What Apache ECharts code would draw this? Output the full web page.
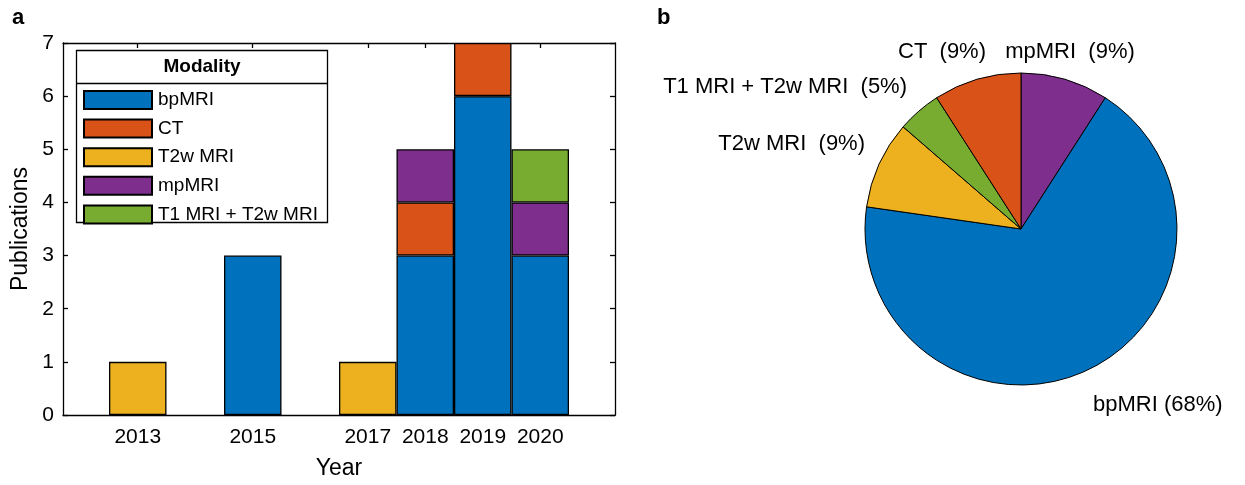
<!DOCTYPE html>
<html>
<head>
<meta charset="utf-8">
<script src="https://cdn.jsdelivr.net/npm/echarts@6/dist/echarts.min.js"></script>
<style>
  html, body { margin: 0; padding: 0; background: #fff; }
  #chart { width: 1245px; height: 485px; }
</style>
</head>
<body>
<div id="chart"></div>
<script>
// data
const years = [2013, 2015, 2017, 2018, 2019, 2020]
const modalities = ["bpMRI", "CT", "T2w MRI", "mpMRI", "T1 MRI + T2w MRI"]
const bpMRI = [null, 3, null, 3, 6, 3]
const ct = [null, null, null, 1, 1, null]
const t2wMRI = [1, null, 1, null, null, null]
const mpMRI = [null, null, null, 1, null, 1]
const t1t2wMRI = [null, null, null, null, null, 1]
const yTicks = [0, 1, 2, 3, 4, 5, 6, 7]
const pieOrder = ["mpMRI", "bpMRI", "T2w MRI", "T1 MRI + T2w MRI", "CT"]

const colors = ["#0072BD", "#D95319", "#EDB120", "#7E2F8E", "#77AC30"]
const font = "'Liberation Sans', Arial, sans-serif"

const seriesValues = [bpMRI, ct, t2wMRI, mpMRI, t1t2wMRI]
const totals = seriesValues.map(vals => vals.reduce((s, v) => s + (v || 0), 0))
const grandTotal = totals.reduce((a, b) => a + b, 0)
const pieData = pieOrder.map(name => {
  const i = modalities.indexOf(name)
  return { name, value: totals[i], itemStyle: { color: colors[i] } }
})

const grid = { left: 63, right: 630, top: 43, bottom: 68 }
const xMin = 2011.7
const xMax = 2021.3
const barPx = (1245 - grid.left - grid.right) / (xMax - xMin)

// where each pie label sits (anchor x, y, alignment)
const pieLabelAnchors = {
  "mpMRI": [1070, 52, "center"],
  "CT": [942, 52, "center"],
  "T1 MRI + T2w MRI": [907, 87, "right"],
  "T2w MRI": [865, 144, "right"],
  "bpMRI": [1093, 405, "left"]
}

const axisLine = { show: true, onZero: false, lineStyle: { color: "#000", width: 1.3 } }
const tickStyle = { inside: true, length: 5, lineStyle: { color: "#000", width: 1.3 } }

const chart = echarts.init(document.getElementById("chart"), null, { renderer: "canvas" })

chart.setOption({
  animation: false,
  textStyle: { fontFamily: font },
  grid: { ...grid, containLabel: false },
  xAxis: [
    {
      type: "value", min: xMin, max: xMax,
      name: "Year", nameLocation: "middle", nameGap: 42,
      nameTextStyle: { fontSize: 23, color: "#000", fontFamily: font },
      axisLine,
      axisTick: { ...tickStyle, customValues: years },
      axisLabel: { customValues: years, formatter: v => String(v), fontSize: 21, color: "#000", margin: 12, fontFamily: font },
      splitLine: { show: false }
    },
    {
      type: "value", min: xMin, max: xMax, position: "top",
      axisLine,
      axisTick: { ...tickStyle, customValues: years },
      axisLabel: { show: false, customValues: years },
      splitLine: { show: false }
    }
  ],
  yAxis: [
    {
      type: "value", min: 0, max: 7, interval: 1,
      name: "Publications", nameLocation: "middle", nameGap: 31,
      nameTextStyle: { fontSize: 23, color: "#000", fontFamily: font },
      axisLine,
      axisTick: { ...tickStyle, customValues: yTicks },
      axisLabel: { customValues: yTicks, fontSize: 21, color: "#000", margin: 9, fontFamily: font },
      splitLine: { show: false }
    },
    {
      type: "value", min: 0, max: 7, interval: 1, position: "right",
      axisLine,
      axisTick: { ...tickStyle, customValues: yTicks },
      axisLabel: { show: false },
      splitLine: { show: false }
    }
  ],
  legend: {
    data: modalities,
    orient: "vertical",
    left: 83, top: 90,
    z: 100,
    padding: 0,
    icon: "rect",
    itemWidth: 68, itemHeight: 18, itemGap: 8.6,
    textStyle: { fontSize: 19, color: "#000", fontFamily: font, lineHeight: 18, padding: [0, 0, 0, 1] },
    selectedMode: false
  },
  graphic: [
    {
      type: "rect", z: 90, silent: true,
      shape: { x: 76.5, y: 50.5, width: 251, height: 172 },
      style: { fill: "#fff", stroke: "#000", lineWidth: 1.3 }
    },
    {
      type: "line", z: 91, silent: true,
      shape: { x1: 76.5, y1: 83.5, x2: 327.5, y2: 83.5 },
      style: { stroke: "#000", lineWidth: 1.3 }
    },
    {
      type: "text", z: 91, silent: true,
      style: { x: 202, y: 67, text: "Modality", align: "center", verticalAlign: "middle",
        font: "bold 19px " + font, fill: "#000" }
    },
    {
      type: "text", silent: true,
      style: { x: 12, y: 18, text: "a", verticalAlign: "middle", font: "bold 22px " + font, fill: "#000" }
    },
    {
      type: "text", silent: true,
      style: { x: 657, y: 18, text: "b", verticalAlign: "middle", font: "bold 22px " + font, fill: "#000" }
    }
  ],
  series: [
    ...modalities.map((name, i) => ({
      name,
      type: "bar",
      stack: "total",
      barWidth: barPx,
      itemStyle: { color: colors[i], borderColor: "#000", borderWidth: 1.3 },
      // value first so that the stack runs on the count, not on the year
      encode: { x: 1, y: 0 },
      data: years.map((y, k) => [seriesValues[i][k], y])
    })),
    {
      name: "share",
      type: "pie",
      center: [1021, 229],
      radius: 156,
      startAngle: 90,
      clockwise: true,
      data: pieData,
      itemStyle: { borderColor: "#000", borderWidth: 1 },
      emphasis: { disabled: true },
      label: {
        show: true,
        position: "outside",
        fontSize: 22,
        color: "#000",
        fontFamily: font,
        width: 320,
        formatter: p => {
          const pct = Math.round(p.value / grandTotal * 100)
          return p.name + (p.name === "bpMRI" ? " " : "  ") + "(" + pct + "%)"
        }
      },
      labelLine: { show: false },
      labelLayout: params => {
        const a = pieLabelAnchors[pieOrder[params.dataIndex]]
        return { x: a[0], y: a[1], align: a[2], verticalAlign: "middle" }
      }
    }
  ]
})
</script>
</body>
</html>
